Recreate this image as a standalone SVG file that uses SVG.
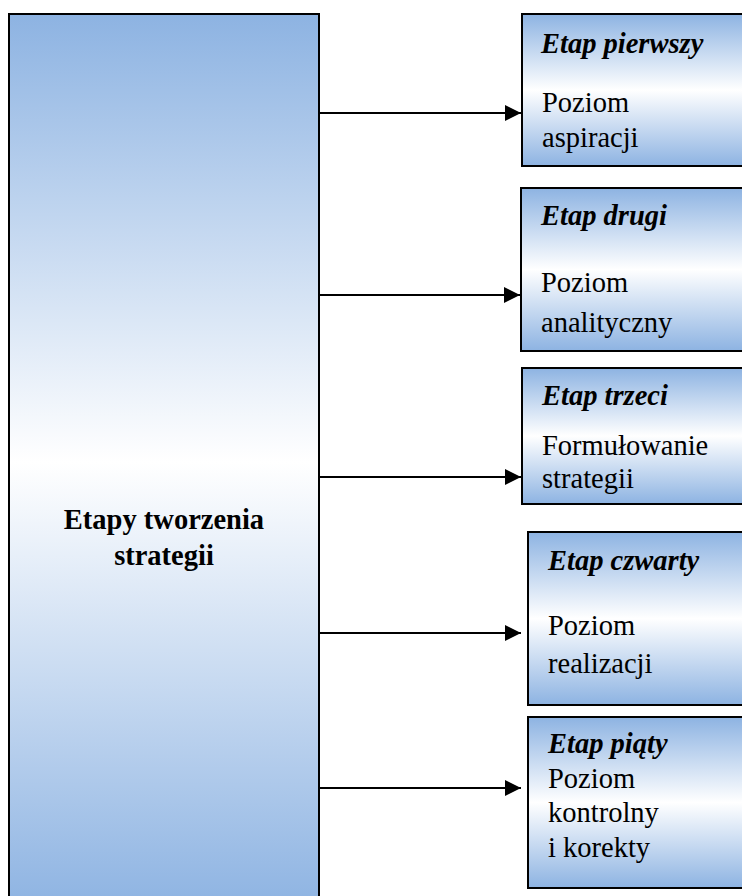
<svg xmlns="http://www.w3.org/2000/svg" width="742" height="896" viewBox="0 0 742 896">
  <defs>
    <linearGradient id="fill" x1="0" y1="0" x2="0" y2="1">
      <stop offset="0" stop-color="#8DB3E2"/>
      <stop offset="0.5" stop-color="#FFFFFF"/>
      <stop offset="1" stop-color="#8DB3E2"/>
    </linearGradient>
    <marker id="arrow" markerWidth="16" markerHeight="16" refX="16" refY="8" orient="auto" markerUnits="userSpaceOnUse">
      <path d="M0,0 L16,8 L0,16 Z" fill="#000"/>
    </marker>
  </defs>
  <style>
    .box { fill: url(#fill); stroke: #000; stroke-width: 2; }
    .txt { font-family: "Liberation Serif", "Times New Roman", serif; font-size: 28.5px; fill: #000; }
    .head { font-weight: bold; font-style: italic; }
    .main { font-weight: bold; }
    .conn { stroke: #000; stroke-width: 2; fill: none; marker-end: url(#arrow); }
  </style>

  <rect width="742" height="896" fill="#FFFFFF"/>

  <g id="main">
    <rect class="box" x="9" y="14" width="310" height="896"/>
    <text class="txt main" x="164" y="529" text-anchor="middle">Etapy tworzenia</text>
    <text class="txt main" x="164" y="565" text-anchor="middle">strategii</text>
  </g>

  <g id="connectors">
    <line class="conn" x1="320" y1="113" x2="521" y2="113"/>
    <line class="conn" x1="320" y1="295" x2="520" y2="295"/>
    <line class="conn" x1="320" y1="477" x2="521" y2="477"/>
    <line class="conn" x1="320" y1="633" x2="521" y2="633"/>
    <line class="conn" x1="320" y1="788" x2="521" y2="788"/>
  </g>

  <g id="etap1">
    <rect class="box" x="522" y="14" width="240" height="152"/>
    <text class="txt head" x="541" y="53">Etap pierwszy</text>
    <text class="txt" x="542" y="112">Poziom</text>
    <text class="txt" x="542" y="147">aspiracji</text>
  </g>

  <g id="etap2">
    <rect class="box" x="521" y="188" width="240" height="163"/>
    <text class="txt head" x="541" y="225">Etap drugi</text>
    <text class="txt" x="541" y="292">Poziom</text>
    <text class="txt" x="541" y="332">analityczny</text>
  </g>

  <g id="etap3">
    <rect class="box" x="522" y="368" width="240" height="136"/>
    <text class="txt head" x="542" y="405">Etap trzeci</text>
    <text class="txt" x="542" y="455">Formułowanie</text>
    <text class="txt" x="542" y="488">strategii</text>
  </g>

  <g id="etap4">
    <rect class="box" x="528" y="532" width="240" height="173"/>
    <text class="txt head" x="548" y="570">Etap czwarty</text>
    <text class="txt" x="548" y="635">Poziom</text>
    <text class="txt" x="548" y="673">realizacji</text>
  </g>

  <g id="etap5">
    <rect class="box" x="528" y="717" width="240" height="171"/>
    <text class="txt head" x="548" y="753">Etap piąty</text>
    <text class="txt" x="548" y="788">Poziom</text>
    <text class="txt" x="548" y="822">kontrolny</text>
    <text class="txt" x="548" y="857">i korekty</text>
  </g>
</svg>
